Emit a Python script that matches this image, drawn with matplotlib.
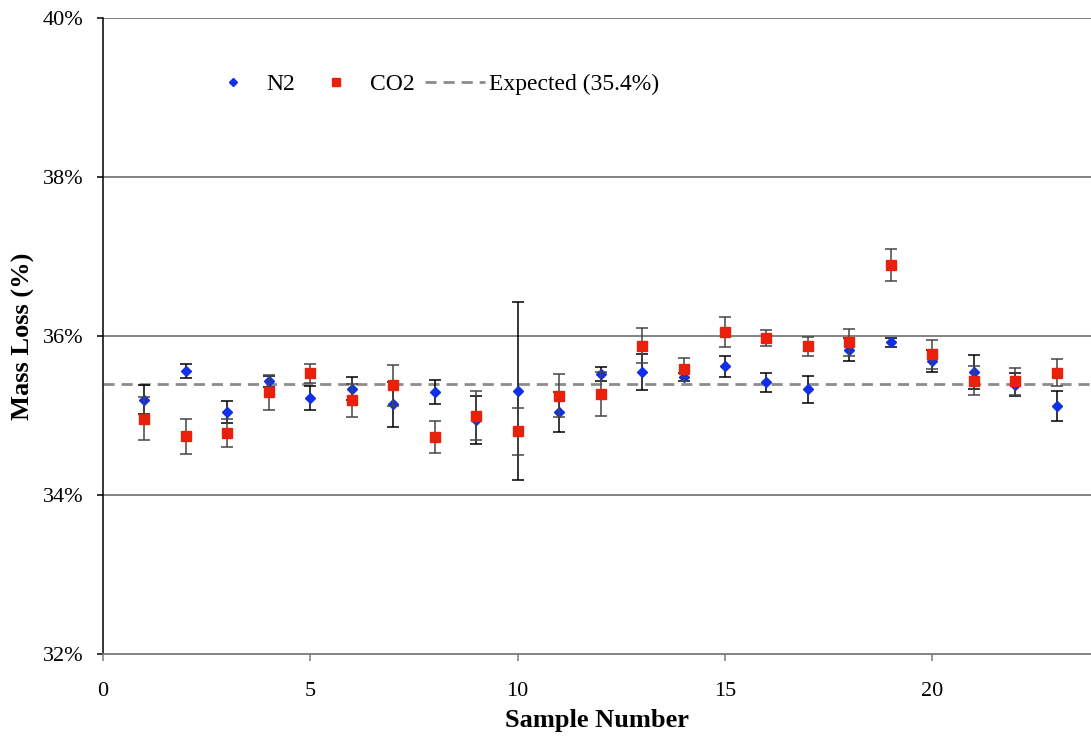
import numpy as np
import matplotlib
matplotlib.use("Agg")
import matplotlib.pyplot as plt
from matplotlib.ticker import PercentFormatter
from matplotlib.lines import Line2D

# valeurs (en %)
samples = list(range(1, 24))
n2 = [35.20, 35.56, 35.04, 35.43, 35.22, 35.34, 35.14, 35.30, 34.94, 35.31, 35.04, 35.52,
      35.55, 35.49, 35.62, 35.42, 35.33, 35.83, 35.92, 35.69, 35.55, 35.39, 35.12]
n2_err = [0.18, 0.09, 0.14, 0.07, 0.15, 0.14, 0.28, 0.15, 0.30, 1.12, 0.25, 0.09,
          0.23, 0.05, 0.13, 0.12, 0.17, 0.15, 0.06, 0.14, 0.21, 0.15, 0.19]
co2 = [34.96, 34.74, 34.78, 35.29, 35.53, 35.19, 35.38, 34.73, 35.00, 34.80, 35.25, 35.27,
       35.88, 35.58, 36.05, 35.97, 35.87, 35.92, 36.89, 35.77, 35.44, 35.43, 35.54]
co2_err = [0.27, 0.22, 0.18, 0.22, 0.12, 0.21, 0.26, 0.20, 0.31, 0.30, 0.27, 0.28,
           0.22, 0.15, 0.19, 0.10, 0.12, 0.17, 0.20, 0.18, 0.18, 0.17, 0.17]
expected = 35.4

plt.rcParams['font.family'] = ['Liberation Serif', 'DejaVu Serif']

blue = '#1030e8'
red = '#e8200c'
dash = (0, (4, 2.5))

fig = plt.figure(figsize=(10.91, 7.42), dpi=100)
ax = fig.add_axes([0.094, 0.1186, 0.906, 0.857])

# grille horizontale
for v in [34, 36, 38, 40]:
    ax.axhline(v, color='#7a7a7a', lw=1.3, zorder=1)

ax.axhline(expected, color='#8c8c8c', lw=2, ls=dash, zorder=2)

ax.errorbar(samples, n2, yerr=n2_err, fmt='D', color=blue, ms=5.5,
            ecolor='black', elinewidth=1.1, capsize=4.5, capthick=1.1, zorder=3)
ax.errorbar(samples, co2, yerr=co2_err, fmt='s', color=red, ms=7,
            ecolor='#454545', elinewidth=1.1, capsize=4.5, capthick=1.1, zorder=4)

ax.set_xlim(0, 23.82)
ax.set_ylim(32, 40)
ax.set_xticks([0, 5, 10, 15, 20])
ax.set_yticks([32, 34, 36, 38, 40])
ax.yaxis.set_major_formatter(PercentFormatter(decimals=0))

for s in ['top', 'right']:
    ax.spines[s].set_visible(False)
ax.spines['left'].set_color('black')
ax.spines['left'].set_linewidth(1.1)
ax.spines['bottom'].set_color('#7a7a7a')
ax.spines['bottom'].set_linewidth(1.3)

ax.tick_params(axis='y', length=4.5, width=1.1, pad=9, labelsize=16, color='black')
ax.tick_params(axis='x', length=5, width=1.1, pad=15, labelsize=16, color='#7a7a7a')

ax.set_xlabel('Sample Number', fontsize=19, fontweight='bold', labelpad=6)
ax.set_ylabel('Mass Loss (%)', fontsize=19, fontweight='bold', labelpad=6)

# légende : marqueurs seuls, sans barres d'erreur
handles = [Line2D([], [], ls='none', marker='D', color=blue, ms=4.5),
           Line2D([], [], ls='none', marker='s', color=red, ms=6),
           Line2D([], [], color='#8c8c8c', lw=2, ls=dash)]
ax.legend(handles, ['N2', 'CO2', 'Expected (35.4%)'], ncol=3, frameon=False,
          loc='center left', bbox_to_anchor=(0.1017, 0.896), borderaxespad=0,
          borderpad=0, fontsize=17, handlelength=2.55, handletextpad=0.15,
          columnspacing=0.45)

fig.savefig('out.png', dpi=100)
